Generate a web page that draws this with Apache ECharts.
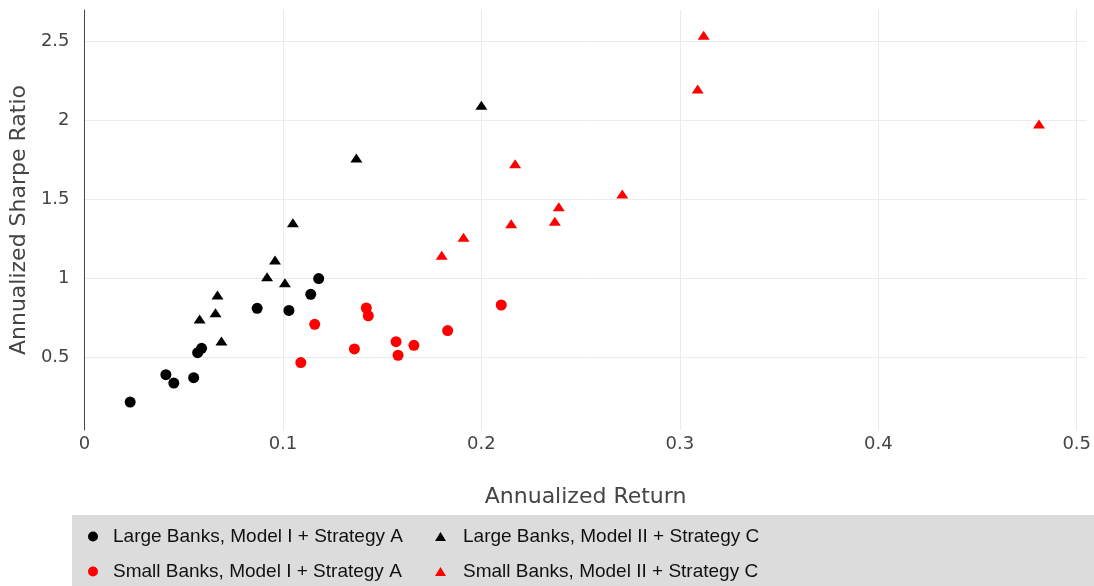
<!DOCTYPE html>
<html>
<head>
<meta charset="utf-8">
<script src="https://cdn.jsdelivr.net/npm/echarts@6/dist/echarts.min.js"></script>
<style>
html,body{margin:0;padding:0;background:#fff;}
#chart{width:1094px;height:586px;}
</style>
</head>
<body>
<div id="chart"></div>
<script>
const seriesNames = [
  'Large Banks, Model I + Strategy A',
  'Large Banks, Model II + Strategy C',
  'Small Banks, Model I + Strategy A',
  'Small Banks, Model II + Strategy C'
];
const largeModelI = [
  [0.023,0.215],[0.041,0.388],[0.045,0.335],[0.055,0.369],[0.057,0.527],
  [0.059,0.555],[0.087,0.808],[0.103,0.795],[0.114,0.897],[0.118,0.996]
];
const largeModelII = [
  [0.058,0.740],[0.066,0.780],[0.067,0.892],[0.069,0.601],[0.092,1.008],
  [0.096,1.114],[0.101,0.970],[0.105,1.350],[0.137,1.759],[0.200,2.093]
];
const smallModelI = [
  [0.109,0.465],[0.116,0.707],[0.136,0.551],[0.142,0.810],[0.143,0.761],
  [0.157,0.597],[0.158,0.511],[0.166,0.574],[0.183,0.667],[0.210,0.829]
];
const smallModelII = [
  [0.180,1.144],[0.191,1.258],[0.215,1.344],[0.217,1.723],[0.237,1.359],
  [0.239,1.451],[0.271,1.532],[0.309,2.196],[0.312,2.536],[0.481,1.975]
];
const xTicks = [0, 0.1, 0.2, 0.3, 0.4, 0.5];
const yTicks = [0.5, 1, 1.5, 2, 2.5];

const chart = echarts.init(document.getElementById('chart'), null, {renderer: 'canvas'});
const tickFont = {fontFamily: 'DejaVu Sans', fontSize: 18, color: '#444'};
const legendText = {fontFamily: 'Liberation Sans', fontSize: 19, color: '#111', lineHeight: 16};

chart.setOption({
  animation: false,
  backgroundColor: '#fff',
  graphic: [{
    type: 'rect', z: -1,
    shape: {x: 72, y: 515, width: 1022, height: 71},
    style: {fill: '#dcdcdc'}
  }],
  grid: {left: 83, right: 6, top: 10, bottom: 156, containLabel: false},
  xAxis: {
    type: 'value', min: 0, max: 0.505,
    name: 'Annualized Return', nameLocation: 'middle', nameGap: 56,
    nameTextStyle: {fontFamily: 'DejaVu Sans', fontSize: 22, color: '#444'},
    axisLine: {show: false},
    axisTick: {show: false, customValues: xTicks},
    axisLabel: Object.assign({customValues: xTicks, margin: 5}, tickFont),
    splitLine: {show: true, lineStyle: {color: '#ebebeb', width: 1}}
  },
  yAxis: {
    type: 'value', min: 0.038, max: 2.696,
    name: 'Annualized Sharpe Ratio', nameLocation: 'middle', nameGap: 50,
    nameTextStyle: {fontFamily: 'DejaVu Sans', fontSize: 22, color: '#444'},
    axisLine: {show: true, lineStyle: {color: '#444', width: 1}},
    axisTick: {show: false, customValues: yTicks},
    axisLabel: Object.assign({customValues: yTicks, margin: 15}, tickFont),
    splitLine: {show: true, lineStyle: {color: '#ebebeb', width: 1}}
  },
  legend: [{
    data: [seriesNames[0], seriesNames[2]],
    orient: 'vertical', left: 88, top: 527, padding: 0,
    itemWidth: 10, itemHeight: 10, itemGap: 16,
    textStyle: Object.assign({padding: [0, 0, 0, 10]}, legendText)
  }, {
    data: [seriesNames[1], seriesNames[3]],
    orient: 'vertical', left: 435, top: 527, padding: 0,
    itemWidth: 11, itemHeight: 9, itemGap: 16,
    textStyle: Object.assign({padding: [0, 0, 0, 12]}, legendText)
  }],
  series: [
    {name: seriesNames[0], type: 'scatter', data: largeModelI, symbol: 'circle', symbolSize: 11, itemStyle: {color: '#000', opacity: 1}},
    {name: seriesNames[1], type: 'scatter', data: largeModelII, symbol: 'triangle', symbolSize: [12, 9], itemStyle: {color: '#000', opacity: 1}},
    {name: seriesNames[2], type: 'scatter', data: smallModelI, symbol: 'circle', symbolSize: 11, itemStyle: {color: '#ff0000', opacity: 1}},
    {name: seriesNames[3], type: 'scatter', data: smallModelII, symbol: 'triangle', symbolSize: [12, 9], itemStyle: {color: '#ff0000', opacity: 1}}
  ]
});
</script>
</body>
</html>
